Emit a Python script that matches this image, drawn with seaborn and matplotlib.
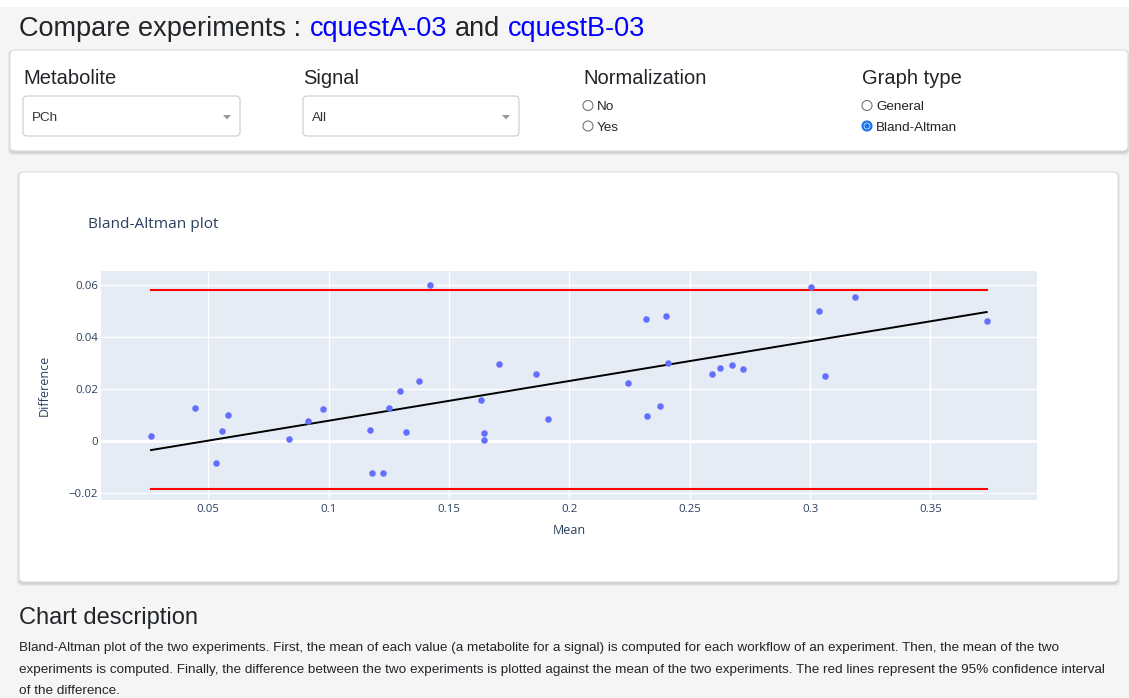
import numpy as np
import matplotlib
matplotlib.use('Agg')
import matplotlib.pyplot as plt
from matplotlib.patches import FancyBboxPatch, Circle, Polygon, Rectangle
import seaborn as sns

# Bland-Altman data: mean of the two experiments vs their difference
mean_vals = [0.0262, 0.0445, 0.0532, 0.0558, 0.0581, 0.0834, 0.0914, 0.0977,
             0.1173, 0.1181, 0.1227, 0.1250, 0.1297, 0.1321, 0.1374, 0.1421,
             0.1633, 0.1647, 0.1647, 0.1707, 0.1862, 0.1911, 0.2243, 0.2317,
             0.2324, 0.2377, 0.2402, 0.2411, 0.2594, 0.2628, 0.2676, 0.2723,
             0.3004, 0.3037, 0.3062, 0.3186, 0.3734]
diff_vals = [0.0017, 0.0125, -0.0085, 0.0037, 0.0099, 0.0007, 0.0076, 0.0123,
             0.0041, -0.0123, -0.0123, 0.0127, 0.0191, 0.0032, 0.0230, 0.0599,
             0.0157, 0.0031, 0.0004, 0.0296, 0.0257, 0.0085, 0.0224, 0.0470,
             0.0096, 0.0134, 0.0482, 0.0300, 0.0257, 0.0282, 0.0293, 0.0275,
             0.0593, 0.0500, 0.0248, 0.0553, 0.0463]

xticks = [0.05, 0.1, 0.15, 0.2, 0.25, 0.3, 0.35]
xticklabels = ['0.05', '0.1', '0.15', '0.2', '0.25', '0.3', '0.35']
yticks = [-0.02, 0, 0.02, 0.04, 0.06]
yticklabels = ['\u22120.02', '0', '0.02', '0.04', '0.06']

exp_a = 'cquestA-03'
exp_b = 'cquestB-03'
metabolite = 'PCh'
signal = 'All'
description = ['Bland-Altman plot of the two experiments. First, the mean of each value (a metabolite for a signal) is computed for each workflow of an experiment. Then, the mean of the two',
               'experiments is computed. Finally, the difference between the two experiments is plotted against the mean of the two experiments. The red lines represent the 95% confidence interval',
               'of the difference.']

W, H = 1129, 698
page_font = 'Liberation Sans'
plot_font = 'Open Sans'
txt = '#212529'
dy = 2  # matplotlib centres on the full text box, browser text sits a bit lower

fig = plt.figure(figsize=(W / 100, H / 100), dpi=100)
fig.patch.set_facecolor('#f5f5f5')

# page layer in pixel coordinates
page = fig.add_axes([0, 0, 1, 1])
page.set_xlim(0, W)
page.set_ylim(H, 0)
page.axis('off')
page.add_patch(Rectangle((0, 0), W, 7, fc='white', ec='none'))


def put(x, y, s, size, color=txt, family=page_font):
    page.text(x, y + dy, s, fontsize=size, family=family, color=color, va='center')


def card(x0, y0, x1, y1):
    for i in range(3):
        page.add_patch(FancyBboxPatch((x0 - i, y0 - i + 2), x1 - x0 + 2 * i, y1 - y0 + 2 * i,
                                      boxstyle='round,pad=0,rounding_size=5',
                                      fc='black', ec='none', alpha=0.05))
    page.add_patch(FancyBboxPatch((x0, y0), x1 - x0, y1 - y0,
                                  boxstyle='round,pad=0,rounding_size=5',
                                  fc='white', ec='#dcdcdc', lw=0.8))


def dropdown(x0, x1, label):
    page.add_patch(FancyBboxPatch((x0, 96), x1 - x0, 40, boxstyle='round,pad=0,rounding_size=4',
                                  fc='white', ec='#cccccc', lw=0.8))
    put(x0 + 9, 116, label, 9.7, color='#333333')
    ax_ = x1 - 13
    page.add_patch(Polygon([[ax_ - 4, 115], [ax_ + 4, 115], [ax_, 119.5]], closed=True,
                           fc='#999999', ec='none'))


def radio(x, y, label, checked=False):
    if checked:
        page.add_patch(Circle((x, y), 5, fc='#1a73e8', ec='#1a73e8', lw=0.8))
        page.add_patch(Circle((x, y), 3.3, fc='white', ec='none'))
        page.add_patch(Circle((x, y), 2.7, fc='#1a73e8', ec='none'))
    else:
        page.add_patch(Circle((x, y), 5, fc='white', ec='#767676', lw=0.8))
    put(x + 9, y, label, 9.7)


# heading
put(19, 27, 'Compare experiments : ', 19.5)
put(309.5, 27, exp_a, 19.5, color='#0000ff')
put(455, 27, 'and', 19.5)
put(507.5, 27, exp_b, 19.5, color='#0000ff')

# controls card
card(10, 50, 1128, 151)
for x, lab in [(23, 'Metabolite'), (303, 'Signal'), (583, 'Normalization'), (862, 'Graph type')]:
    put(x, 76, lab, 14.5)
dropdown(23, 240, metabolite)
dropdown(303, 519, signal)
radio(588, 105.5, 'No')
radio(588, 126, 'Yes')
radio(867, 105.5, 'General')
radio(867, 126, 'Bland-Altman', checked=True)

# chart card
card(19, 172, 1118, 582)
put(88, 222.5, 'Bland-Altman plot', 11.1, color='#2a3f5f', family=plot_font)

# description
put(19, 616, 'Chart description', 17)
for i, line in enumerate(description):
    put(19, 646 + i * 21.5, line, 9.7)

# the plot itself
left, right, top, bottom = 101, 1037, 271, 499.5
ax = fig.add_axes([left / W, 1 - bottom / H, (right - left) / W, (bottom - top) / H])
ax.set_facecolor('#E5ECF6')

m = np.array(mean_vals)
d = np.array(diff_vals)
md = d.mean()
sd = d.std(ddof=1)
xr = [m.min(), m.max()]
ax.plot(xr, [md + 1.96 * sd] * 2, color='red', lw=1.5, zorder=2)
ax.plot(xr, [md - 1.96 * sd] * 2, color='red', lw=1.5, zorder=2)
sns.regplot(x=m, y=d, scatter=False, ci=None, color='black', line_kws=dict(lw=1.4, zorder=3), ax=ax)
sns.scatterplot(x=m, y=d, color='#636efa', s=22, linewidth=0, zorder=4, ax=ax)

ax.set_xlim(0.00542, 0.3943)
ax.set_ylim(-0.02268, 0.06547)
ax.set_xticks(xticks)
ax.set_xticklabels(xticklabels)
ax.set_yticks(yticks)
ax.set_yticklabels(yticklabels)
ax.grid(True, color='white', lw=1)
ax.set_axisbelow(True)
ax.axhline(0, color='white', lw=2, zorder=1)
for s in ax.spines.values():
    s.set_visible(False)
ax.tick_params(length=0, labelsize=8.2, labelcolor='#2a3f5f')
ax.tick_params(axis='x', pad=3)
ax.tick_params(axis='y', pad=2)
for t in ax.get_xticklabels() + ax.get_yticklabels():
    t.set_family(plot_font)
ax.set_xlabel('Mean', fontsize=9, family=plot_font, color='#2a3f5f', va='center')
ax.set_ylabel('Difference', fontsize=9, family=plot_font, color='#2a3f5f', va='center', ha='center')
ax.xaxis.set_label_coords(0.5, (bottom - 530) / (bottom - top))
ax.yaxis.set_label_coords((44 - left) / (right - left), 0.5)

fig.savefig('out.png', dpi=100, facecolor=fig.get_facecolor())
